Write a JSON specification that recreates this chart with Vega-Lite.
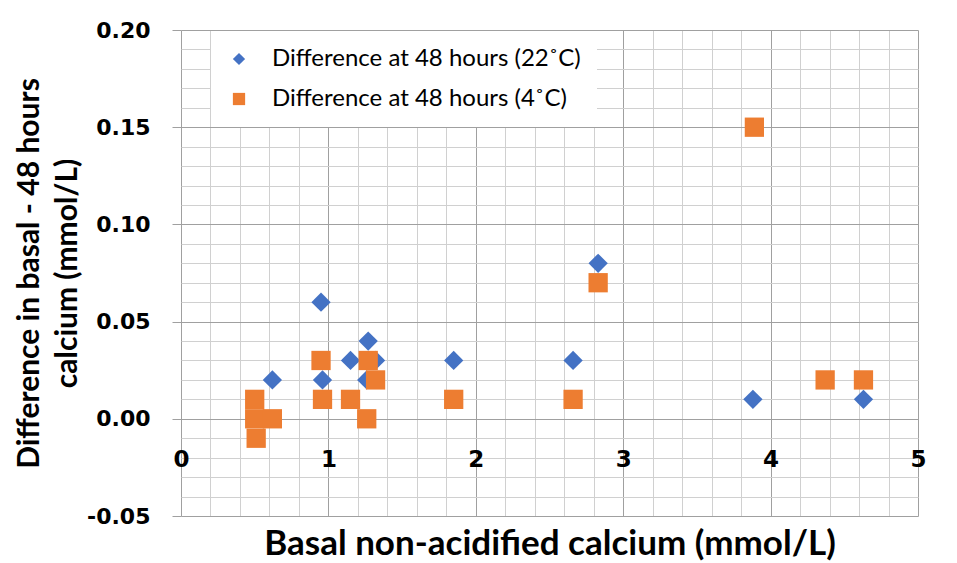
{
  "$schema": "https://vega.github.io/schema/vega-lite/v6.json",
  "width": 737,
  "height": 486,
  "autosize": {"type": "none"},
  "padding": {"left": 181, "top": 30, "right": 39, "bottom": 47},
  "background": "white",
  "config": {"view": {"stroke": null}},
  "data": {
    "values": [
      {"series": "Difference at 48 hours (22˚C)", "basal": 0.62, "diff": 0.02},
      {"series": "Difference at 48 hours (22˚C)", "basal": 0.95, "diff": 0.06},
      {"series": "Difference at 48 hours (22˚C)", "basal": 0.96, "diff": 0.02},
      {"series": "Difference at 48 hours (22˚C)", "basal": 1.15, "diff": 0.03},
      {"series": "Difference at 48 hours (22˚C)", "basal": 1.27, "diff": 0.04},
      {"series": "Difference at 48 hours (22˚C)", "basal": 1.32, "diff": 0.03},
      {"series": "Difference at 48 hours (22˚C)", "basal": 1.26, "diff": 0.02},
      {"series": "Difference at 48 hours (22˚C)", "basal": 1.85, "diff": 0.03},
      {"series": "Difference at 48 hours (22˚C)", "basal": 2.66, "diff": 0.03},
      {"series": "Difference at 48 hours (22˚C)", "basal": 2.83, "diff": 0.08},
      {"series": "Difference at 48 hours (22˚C)", "basal": 3.88, "diff": 0.01},
      {"series": "Difference at 48 hours (22˚C)", "basal": 4.63, "diff": 0.01},
      {"series": "Difference at 48 hours (4˚C)", "basal": 0.50, "diff": 0.01},
      {"series": "Difference at 48 hours (4˚C)", "basal": 0.50, "diff": 0.00},
      {"series": "Difference at 48 hours (4˚C)", "basal": 0.62, "diff": 0.00},
      {"series": "Difference at 48 hours (4˚C)", "basal": 0.51, "diff": -0.01},
      {"series": "Difference at 48 hours (4˚C)", "basal": 0.95, "diff": 0.03},
      {"series": "Difference at 48 hours (4˚C)", "basal": 0.96, "diff": 0.01},
      {"series": "Difference at 48 hours (4˚C)", "basal": 1.15, "diff": 0.01},
      {"series": "Difference at 48 hours (4˚C)", "basal": 1.27, "diff": 0.03},
      {"series": "Difference at 48 hours (4˚C)", "basal": 1.32, "diff": 0.02},
      {"series": "Difference at 48 hours (4˚C)", "basal": 1.26, "diff": 0.00},
      {"series": "Difference at 48 hours (4˚C)", "basal": 1.85, "diff": 0.01},
      {"series": "Difference at 48 hours (4˚C)", "basal": 2.66, "diff": 0.01},
      {"series": "Difference at 48 hours (4˚C)", "basal": 2.83, "diff": 0.07},
      {"series": "Difference at 48 hours (4˚C)", "basal": 3.89, "diff": 0.15},
      {"series": "Difference at 48 hours (4˚C)", "basal": 4.37, "diff": 0.02},
      {"series": "Difference at 48 hours (4˚C)", "basal": 4.63, "diff": 0.02}
    ]
  },
  "mark": {"type": "point", "filled": true, "size": 372, "opacity": 1, "strokeWidth": 0},
  "encoding": {
    "x": {
      "field": "basal",
      "type": "quantitative",
      "scale": {"domain": [0, 5], "nice": false, "zero": false},
      "axis": {
        "title": "Basal non-acidified calcium (mmol/L)",
        "values": [0, 0.2, 0.4, 0.6, 0.8, 1, 1.2, 1.4, 1.6, 1.8, 2, 2.2, 2.4, 2.6, 2.8, 3, 3.2, 3.4, 3.6, 3.8, 4, 4.2, 4.4, 4.6, 4.8, 5],
        "labelExpr": "datum.value % 1 == 0 ? format(datum.value, '.0f') : ''",
        "grid": true,
        "gridColor": {"condition": {"test": "datum.value % 1 == 0", "value": "#a0a0a0"}, "value": "#d0d0d0"},
        "gridWidth": 1,
        "domain": false,
        "ticks": false,
        "offset": -52,
        "labelBaseline": "alphabetic",
        "labelPadding": 2,
        "labelFlush": false,
        "labelFont": "DejaVu Sans",
        "labelFontWeight": "bold",
        "labelFontSize": 23,
        "labelColor": "black",
        "labelOverlap": false,
        "titleFont": "Lato",
        "titleFontSize": 35,
        "titleFontWeight": "bold",
        "titleColor": "black",
        "titleBaseline": "alphabetic",
        "titleY": 90
      }
    },
    "y": {
      "field": "diff",
      "type": "quantitative",
      "scale": {"domain": [-0.05, 0.2], "nice": false, "zero": false},
      "axis": {
        "title": ["Difference  in basal - 48 hours", "calcium (mmol/L)"],
        "values": [-0.05, -0.04, -0.03, -0.02, -0.01, 0, 0.01, 0.02, 0.03, 0.04, 0.05, 0.06, 0.07, 0.08, 0.09, 0.1, 0.11, 0.12, 0.13, 0.14, 0.15, 0.16, 0.17, 0.18, 0.19, 0.2],
        "labelExpr": "abs(round(datum.value * 100)) % 5 == 0 ? replace(format(datum.value, '.2f'), '−', '-') : ''",
        "grid": true,
        "gridColor": {"condition": {"test": "abs(round(datum.value * 100)) % 5 == 0", "value": "#a0a0a0"}, "value": "#d0d0d0"},
        "gridWidth": 1,
        "domain": false,
        "ticks": true,
        "tickSize": 9,
        "tickColor": "#a0a0a0",
        "tickOpacity": {"condition": {"test": "abs(round(datum.value * 100)) % 5 == 0", "value": 1}, "value": 0},
        "labelPadding": 22,
        "labelFont": "DejaVu Sans",
        "labelFontWeight": "bold",
        "labelFontSize": 22,
        "labelColor": "black",
        "labelOverlap": false,
        "titleFont": "Lato",
        "titleFontSize": 30,
        "titleFontWeight": "bold",
        "titleColor": "black",
        "titleLineHeight": 38,
        "titlePadding": 4
      }
    },
    "color": {
      "field": "series",
      "type": "nominal",
      "scale": {"domain": ["Difference at 48 hours (22˚C)", "Difference at 48 hours (4˚C)"], "range": ["#4472C4", "#ED7D31"]},
      "legend": {
        "title": null,
        "orient": "none",
        "legendX": 30,
        "legendY": 1,
        "fillColor": "white",
        "padding": 16,
        "rowPadding": 16,
        "symbolSize": 150,
        "symbolStrokeWidth": 0,
        "labelOffset": 21,
        "labelFont": "Lato",
        "labelFontSize": 24,
        "labelColor": "black",
        "labelLimit": 700,
        "zindex": 1
      }
    },
    "shape": {
      "field": "series",
      "type": "nominal",
      "scale": {"domain": ["Difference at 48 hours (22˚C)", "Difference at 48 hours (4˚C)"], "range": ["diamond", "square"]},
      "legend": {
        "title": null,
        "orient": "none",
        "legendX": 30,
        "legendY": 1,
        "fillColor": "white",
        "padding": 16,
        "rowPadding": 16,
        "symbolSize": 150,
        "symbolStrokeWidth": 0,
        "labelOffset": 21,
        "labelFont": "Lato",
        "labelFontSize": 24,
        "labelColor": "black",
        "labelLimit": 700,
        "zindex": 1
      }
    }
  }
}
